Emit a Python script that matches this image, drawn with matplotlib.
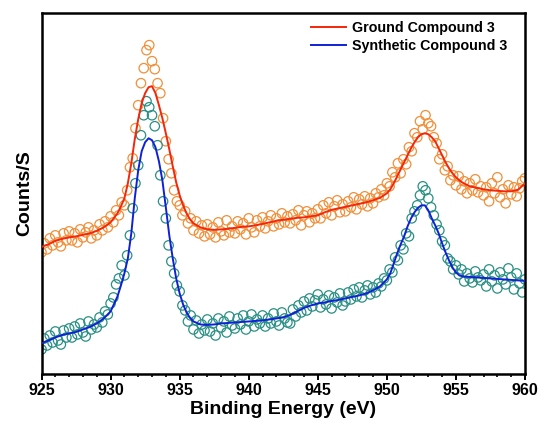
import numpy as np
import matplotlib
matplotlib.use('Agg')
import matplotlib.pyplot as plt
from matplotlib.ticker import MultipleLocator

plt.rcParams['font.family'] = ['Liberation Sans', 'DejaVu Sans']
plt.rcParams['font.weight'] = 'bold'

# measured points, 0.2 eV step from 925 to 960 eV
scan_ev = np.round(np.arange(925.0, 960.001, 0.2), 1)

ground_pts = [
    121, 130, 124, 135, 128, 138, 131, 127, 140, 133,
    142, 133, 140, 131, 144, 136, 141, 146, 135, 143,
    138, 149, 143, 152, 146, 157, 151, 163, 158, 171,
    168, 183, 206, 215, 245, 268, 290, 305, 323, 328,
    312, 304, 290, 280, 255, 232, 214, 200, 183, 172,
    168, 158, 162, 150, 155, 143, 152, 140, 148, 137,
    149, 139, 146, 136, 151, 142, 138, 153, 141, 147,
    140, 152, 144, 150, 139, 155, 146, 141, 153, 147,
    156, 145, 152, 158, 147, 155, 149, 160, 151, 157,
    150, 159, 153, 163, 148, 158, 162, 151, 160, 155,
    164, 155, 168, 160, 171, 158, 167, 173, 161, 169,
    162, 172, 166, 176, 164, 174, 169, 177, 167, 175,
    170, 180, 176, 184, 178, 190, 187, 201, 196, 210,
    200, 214, 209, 226, 222, 240, 236, 252, 244, 258,
    250, 247, 236, 230, 214, 219, 203, 207, 193, 198,
    188, 197, 184, 192, 180, 190, 183, 194, 181, 187,
    178, 186, 172, 190, 180, 196, 176, 184, 170, 188,
    179, 186, 177, 185, 192, 195,
]

synth_pts = [
    24, 35, 28, 38, 31, 42, 33, 29, 43, 36,
    45, 36, 47, 39, 50, 41, 37, 52, 44, 49,
    46, 56, 51, 62, 59, 70, 76, 89, 95, 108,
    98, 118, 138, 165, 190, 208, 238, 258, 272, 266,
    258, 247, 228, 198, 172, 155, 128, 112, 100, 88,
    82, 68, 63, 52, 58, 44, 53, 40, 49, 43,
    54, 42, 50, 38, 55, 46, 52, 41, 57, 48,
    45, 55, 49, 58, 44, 52, 59, 47, 54, 50,
    58, 47, 55, 50, 60, 52, 48, 61, 55, 51,
    50, 64, 57, 68, 61, 72, 63, 75, 67, 73,
    79, 66, 74, 69, 78, 65, 76, 71, 80, 68,
    72, 81, 74, 84, 77, 86, 76, 83, 88, 79,
    86, 81, 90, 87, 95, 93, 104, 101, 116, 113,
    128, 124, 140, 137, 155, 162, 168, 178, 187, 183,
    175, 166, 158, 149, 143, 132, 128, 115, 112, 104,
    108, 99, 104, 92, 100, 95, 91, 102, 96, 93,
    99, 87, 104, 92, 98, 85, 101, 94, 89, 105,
    96, 84, 100, 90, 81, 94,
]

# fitted envelopes, finer step across the two Cu 2p peaks
fit_ev = np.concatenate([
    np.arange(925.0, 930.51, 0.5),
    np.arange(930.75, 936.01, 0.25),
    np.arange(936.5, 950.01, 0.5),
    np.arange(950.25, 955.51, 0.25),
    np.arange(956.0, 960.01, 0.5),
])

ground_fit = [
    126.5, 129, 132.5, 134.5, 136, 137, 138.5, 140, 142.5, 146, 151, 160,
    167, 175, 190, 210, 234, 254, 270, 280, 286, 287, 280, 268, 255, 240,
    224, 207, 191, 178, 168, 160, 154, 150,
    146, 144, 143.5, 144, 144.5, 145.5, 146.5, 147, 148, 149.5, 151, 152.5,
    153.5, 154.5, 155.5, 156, 157, 158, 161, 163.5, 165, 166.5, 168, 169.5,
    171, 173, 175.5, 180,
    184, 190, 197, 204, 211, 218, 225, 231, 236, 239, 240, 239, 236, 232,
    225, 218, 211, 205, 200, 196, 193, 190.5,
    187, 185.5, 184, 183, 182.5, 182, 182, 183.5, 190,
]

synth_fit = [
    30, 33, 36, 38.5, 40, 41.5, 44, 46.5, 50, 55, 62, 77,
    88, 100, 115, 140, 175, 203, 222, 231, 235, 233, 226, 212, 193, 166,
    138, 115, 95, 80, 69, 61, 55.5, 52,
    49, 48.5, 49, 50, 50.5, 51, 51.5, 52, 52.5, 53, 54, 55, 56, 58.5, 62,
    65.5, 68, 70, 71, 72.5, 73.5, 75, 76.5, 78, 80, 83, 87, 94,
    100, 110, 120, 129, 137, 147, 155, 161, 165.5, 168, 168, 163, 155, 148,
    140, 130, 121, 113, 106, 101, 98, 97,
    96.5, 96, 95.5, 95, 94.5, 94, 93.5, 93, 92.5,
]

fig = plt.figure(figsize=(5.42, 4.23), dpi=100)
ax = fig.add_axes([0.0766, 0.117, 0.892, 0.852])

ax.scatter(scan_ev, ground_pts, s=46, facecolors='none', edgecolors='#f0903a',
           linewidths=0.9, zorder=2)
ax.scatter(scan_ev, synth_pts, s=46, facecolors='none', edgecolors='#2a9084',
           linewidths=0.9, zorder=2)
ax.plot(fit_ev, ground_fit, color='#f5260a', lw=1.4, zorder=3,
        label='Ground Compound 3')
ax.plot(fit_ev, synth_fit, color='#1020d8', lw=1.4, zorder=3,
        label='Synthetic Compound 3')

ax.set_xlim(925, 960)
ax.set_ylim(0, 360)
ax.set_yticks([])
ax.xaxis.set_major_locator(MultipleLocator(5))
ax.xaxis.set_minor_locator(MultipleLocator(1))
ax.tick_params(axis='x', which='major', direction='out', length=4, width=1.4,
               labelsize=11.5, pad=3)
ax.tick_params(axis='x', which='minor', direction='out', length=2.5, width=1.2)
for sp in ax.spines.values():
    sp.set_linewidth(1.8)

ax.set_xlabel('Binding Energy (eV)', fontsize=14, fontweight='bold', labelpad=2)
ax.set_ylabel('Counts/S', fontsize=14, fontweight='bold', labelpad=6)

ax.legend(loc='upper right', bbox_to_anchor=(0.975, 0.994), borderaxespad=0,
          frameon=False, fontsize=10.3, handlelength=2.45,
          handletextpad=0.4, labelspacing=0.26)

fig.savefig('out.png', dpi=100)
